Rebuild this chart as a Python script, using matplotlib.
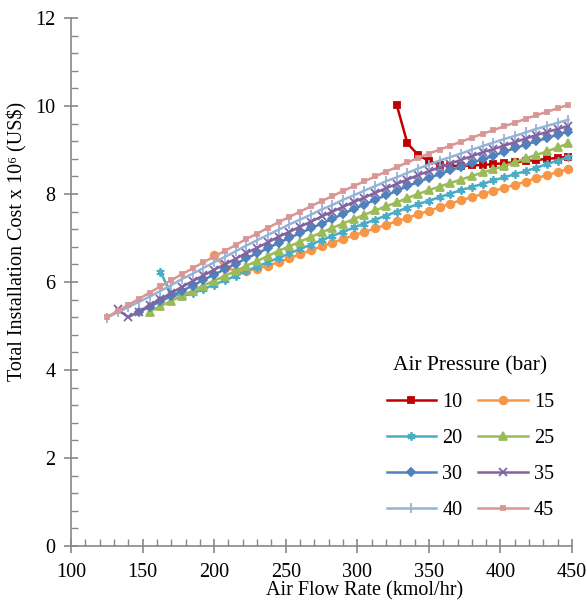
import matplotlib
matplotlib.use("Agg")
import matplotlib.pyplot as plt
from matplotlib.ticker import MultipleLocator

# air flow rate grid (kmol/hr), every series ends on the last point
flow = [125, 132.5, 140, 147.5, 155, 162.5, 170, 177.5, 185, 192.5,
        200, 207.5, 215, 222.5, 230, 237.5, 245, 252.5, 260, 267.5,
        275, 282.5, 290, 297.5, 305, 312.5, 320, 327.5, 335, 342.5,
        350, 357.5, 365, 372.5, 380, 387.5, 395, 402.5, 410, 417.5,
        425, 432.5, 440, 447.5]

# total installation cost x 1e6 US$
cost_10 = [10.03, 9.15, 8.89, 8.75, 8.67, 8.64, 8.64, 8.65, 8.66, 8.68,
           8.70, 8.72, 8.75, 8.77, 8.80, 8.82, 8.85]
cost_15 = [6.61, 6.33, 6.26, 6.26, 6.30, 6.37, 6.45, 6.54, 6.63, 6.72,
           6.81, 6.89, 6.98, 7.06, 7.14, 7.22, 7.30, 7.38, 7.46, 7.54,
           7.62, 7.70, 7.78, 7.86, 7.93, 8.00, 8.07, 8.14, 8.21, 8.28,
           8.36, 8.43, 8.50, 8.57]
cost_20 = [6.23, 5.72, 5.68, 5.74, 5.84, 5.94, 6.04, 6.14, 6.25, 6.35,
           6.45, 6.55, 6.65, 6.75, 6.85, 6.95, 7.05, 7.14, 7.24, 7.33,
           7.42, 7.51, 7.60, 7.69, 7.77, 7.85, 7.93, 8.01, 8.09, 8.16,
           8.23, 8.31, 8.38, 8.45, 8.52, 8.60, 8.68, 8.76, 8.84]
cost_25 = [5.33, 5.45, 5.57, 5.69, 5.80, 5.92, 6.03, 6.14, 6.25, 6.37,
           6.48, 6.59, 6.71, 6.81, 6.92, 7.02, 7.13, 7.23, 7.33, 7.43,
           7.53, 7.63, 7.72, 7.81, 7.91, 8.00, 8.09, 8.17, 8.25, 8.33,
           8.41, 8.49, 8.56, 8.64, 8.72, 8.81, 8.89, 8.97, 9.06, 9.15]
cost_30 = [5.32, 5.44, 5.56, 5.68, 5.80, 5.92, 6.05, 6.17, 6.29, 6.41,
           6.54, 6.65, 6.77, 6.89, 7.00, 7.11, 7.22, 7.33, 7.43, 7.55,
           7.66, 7.76, 7.87, 7.97, 8.07, 8.18, 8.27, 8.37, 8.45, 8.54,
           8.62, 8.71, 8.79, 8.87, 8.96, 9.04, 9.12, 9.20, 9.27, 9.35,
           9.42]
cost_35 = [5.38, 5.20, 5.33, 5.47, 5.61, 5.75, 5.89, 6.02, 6.15, 6.28,
           6.40, 6.53, 6.66, 6.78, 6.90, 7.03, 7.14, 7.26, 7.37, 7.49,
           7.60, 7.71, 7.82, 7.92, 8.03, 8.13, 8.23, 8.33, 8.43, 8.52,
           8.61, 8.69, 8.78, 8.86, 8.95, 9.02, 9.10, 9.18, 9.26, 9.34,
           9.41, 9.48, 9.55]
cost_40 = [5.19, 5.31, 5.43, 5.55, 5.67, 5.80, 5.93, 6.07, 6.19, 6.32,
           6.45, 6.57, 6.70, 6.83, 6.95, 7.07, 7.19, 7.31, 7.42, 7.53,
           7.65, 7.75, 7.87, 7.97, 8.08, 8.18, 8.29, 8.38, 8.48, 8.58,
           8.67, 8.76, 8.84, 8.92, 9.01, 9.09, 9.17, 9.25, 9.32, 9.40,
           9.48, 9.55, 9.62, 9.69]
cost_45 = [5.20, 5.34, 5.48, 5.62, 5.76, 5.90, 6.04, 6.18, 6.31, 6.45,
           6.58, 6.71, 6.84, 6.98, 7.10, 7.23, 7.36, 7.48, 7.60, 7.72,
           7.84, 7.95, 8.07, 8.18, 8.29, 8.40, 8.51, 8.61, 8.72, 8.82,
           8.92, 9.01, 9.10, 9.19, 9.28, 9.37, 9.45, 9.54, 9.62, 9.71,
           9.79, 9.87, 9.95, 10.03]

pressures = ["10", "15", "20", "25", "30", "35", "40", "45"]
costs = [cost_10, cost_15, cost_20, cost_25, cost_30, cost_35, cost_40, cost_45]

colors = ["#C00000", "#F79646", "#4BACC6", "#9BBB59",
          "#4F81BD", "#8064A2", "#95B3D7", "#D99694"]
markers = ["s", "o", (6, 2, 0), "^", "D", "x", "|", "s"]
msizes = [5, 5.5, 6, 6, 4.5, 6, 7, 3]

plt.rcParams['font.family'] = ['Liberation Serif', 'DejaVu Serif']
plt.rcParams['font.size'] = 14.5

fig = plt.figure(figsize=(5.87, 6.02), dpi=100)
ax = fig.add_axes([0.121, 0.093, 0.8535, 0.877])

lines = []
for p, c, col, m, ms in zip(pressures, costs, colors, markers, msizes):
    x = flow[-len(c):]
    ln, = ax.plot(x, c, color=col, lw=1.8, marker=m, ms=ms,
                  mec=col, mfc=col, mew=1.3, label=p)
    lines.append(ln)

ax.set_xlim(100, 450)
ax.set_ylim(0, 12)
ax.xaxis.set_major_locator(MultipleLocator(50))
ax.xaxis.set_minor_locator(MultipleLocator(10))
ax.yaxis.set_major_locator(MultipleLocator(2))
ax.yaxis.set_minor_locator(MultipleLocator(0.4))

for s in ["top", "right"]:
    ax.spines[s].set_visible(False)
for s in ["left", "bottom"]:
    ax.spines[s].set_color("#888888")
    ax.spines[s].set_linewidth(1.2)
ax.tick_params(which="major", direction="inout", length=10, width=1.2,
               color="#888888", pad=6, labelsize=14.5)
ax.tick_params(axis="x", which="major", pad=7)
ax.tick_params(which="minor", direction="in", length=5, width=1.0,
               color="#888888")

ax.set_xlabel("Air Flow Rate (kmol/hr)", fontsize=14.5)
ax.set_ylabel("Total Installation Cost x 10\u2076 (US$)", fontsize=14.5)
ax.xaxis.set_label_coords(0.585, -0.066)
ax.yaxis.set_label_coords(-0.086, 0.576)

# legend filled row by row: 10 15 / 20 25 / 30 35 / 40 45
order = [0, 2, 4, 6, 1, 3, 5, 7]
leg = ax.legend([lines[i] for i in order], [pressures[i] for i in order],
                ncol=2, title="Air Pressure (bar)", frameon=False,
                loc="lower right", bbox_to_anchor=(1.0, 0.014),
                handlelength=2.45, columnspacing=0.8, labelspacing=0.85,
                handletextpad=0.3, numpoints=1, fontsize=14.5,
                title_fontsize=15.5)

plt.savefig("out.png", dpi=100)
